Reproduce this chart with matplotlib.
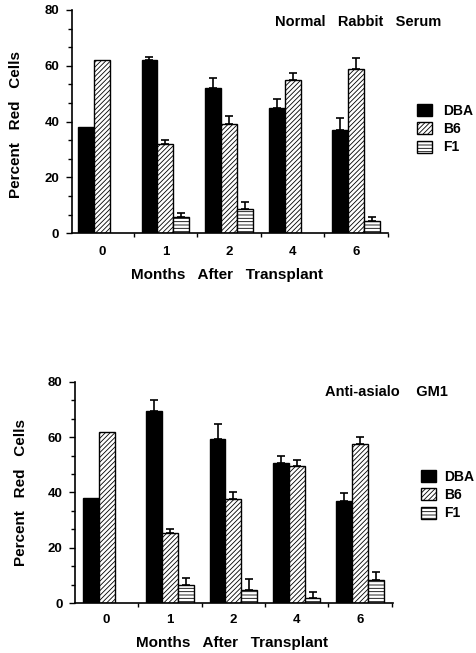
import numpy as np
import matplotlib
matplotlib.use("Agg")
import matplotlib.pyplot as plt
from matplotlib.ticker import MultipleLocator, FixedLocator

plt.rcParams['font.family'] = ['Liberation Sans', 'DejaVu Sans']
plt.rcParams['font.weight'] = 'bold'
plt.rcParams['hatch.linewidth'] = 0.6

months = ["0", "1", "2", "4", "6"]
series = ["DBA", "B6", "F1"]

# Normal Rabbit Serum
nrs_dba = [38, 62, 52, 45, 37]
nrs_b6 = [62, 32, 39, 55, 59]
nrs_f1 = [0, 6, 8.7, 0, 4.3]
nrs_dba_err = [0, 1.0, 3.5, 3.2, 4.2]
nrs_b6_err = [0, 1.5, 3.0, 2.6, 3.9]
nrs_f1_err = [0, 1.1, 2.6, 0, 1.5]

# Anti-asialo GM1
aag_dba = [38, 69.5, 59.3, 50.8, 37]
aag_b6 = [62, 25.3, 37.5, 49.7, 57.5]
aag_f1 = [0, 6.6, 4.8, 1.9, 8.4]
aag_dba_err = [0, 4.0, 5.3, 2.3, 2.7]
aag_b6_err = [0, 1.4, 2.7, 2.0, 2.7]
aag_f1_err = [0, 2.6, 3.9, 2.2, 2.8]

styles = [dict(facecolor='black', hatch=None),
          dict(facecolor='white', hatch='///////'),
          dict(facecolor='white', hatch='-----')]

W, H = 477, 653
fig = plt.figure(figsize=(W / 100, H / 100), dpi=100)


def panel(rect, vals, errs, xlim, title, title_xy, legend_xy, xlabel_xy,
          ylabel_xy, tickpad, textpad):
    ax = fig.add_axes(rect)
    x = np.arange(len(months))
    bw = 0.25
    handles = []
    for k, (v, e, st) in enumerate(zip(vals, errs, styles)):
        v = np.asarray(v, float)
        e = np.asarray(e, float)
        pos = x + (k - 1) * bw
        show = v > 0
        b = ax.bar(pos[show], v[show], width=bw, facecolor=st['facecolor'],
                   edgecolor='black', linewidth=1.0, hatch=st['hatch'],
                   label=series[k], zorder=2)
        handles.append(b)
        m = e > 0
        ax.errorbar(pos[m], v[m], yerr=[np.zeros(m.sum()), e[m]], fmt='none',
                    ecolor='black', elinewidth=1.2, capsize=3, capthick=1.2,
                    zorder=3)
    ax.set_xlim(*xlim)
    ax.set_ylim(0, 80)
    for s in ['top', 'right']:
        ax.spines[s].set_visible(False)
    ax.spines['left'].set_linewidth(1.2)
    ax.spines['bottom'].set_linewidth(1.2)
    ax.yaxis.set_major_locator(MultipleLocator(20))
    ax.yaxis.set_minor_locator(MultipleLocator(20 / 3))
    ax.set_xticks(x)
    ax.set_xticklabels(months)
    ax.xaxis.set_minor_locator(FixedLocator(list(x + 0.5)))
    ax.tick_params(axis='x', which='major', length=0, pad=tickpad, labelsize=9.5)
    ax.tick_params(axis='x', which='minor', length=3, width=1, direction='out')
    ax.tick_params(axis='y', which='major', length=4, width=1, pad=5, labelsize=9.5)
    ax.tick_params(axis='y', which='minor', length=3, width=1)
    ax.set_ylabel("Percent   Red   Cells", fontsize=11, fontweight='bold')
    ax.yaxis.set_label_coords(*ylabel_xy)
    ax.set_xlabel("Months   After   Transplant", fontsize=11, fontweight='bold')
    ax.xaxis.set_label_coords(*xlabel_xy)
    fig.text(title_xy[0], title_xy[1], title, fontsize=10.5, fontweight='bold',
             ha='left', va='center')
    fig.legend(handles=handles, labels=series, loc='upper left',
               bbox_to_anchor=legend_xy, frameon=False, fontsize=10,
               handlelength=1.08, handleheight=0.95, handletextpad=textpad,
               labelspacing=0.3, borderpad=0, borderaxespad=0)
    return ax


panel([71.7 / W, 1 - 233.3 / H, 316.3 / W, 223.3 / H],
      [nrs_dba, nrs_b6, nrs_f1], [nrs_dba_err, nrs_b6_err, nrs_f1_err],
      (-0.473, 4.5), "Normal   Rabbit   Serum", (275 / W, 1 - 22 / H),
      (417 / W, 1 - 104 / H), (0.49, -0.157), (-0.155, 0.485), 9, 0.8)

panel([75 / W, 1 - 603.3 / H, 318 / W, 221.6 / H],
      [aag_dba, aag_b6, aag_f1], [aag_dba_err, aag_b6_err, aag_f1_err],
      (-0.5, 4.52), "Anti-asialo    GM1", (325 / W, 1 - 392 / H),
      (421 / W, 1 - 470 / H), (0.495, -0.148), (-0.148, 0.5), 8, 0.55)

fig.savefig("out.png", dpi=100)
